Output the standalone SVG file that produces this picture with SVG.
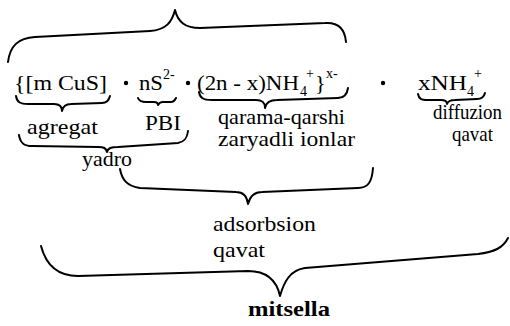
<svg xmlns="http://www.w3.org/2000/svg" width="510" height="326" viewBox="0 0 510 326">
<style>
text{font-family:"Liberation Serif","Times New Roman",serif;fill:#000}
.m{font-size:22px}
.s{font-size:14px}
.l{font-size:21px}
.b{font-size:21px;font-weight:bold}
.br{fill:none;stroke:#000;stroke-width:2;stroke-linecap:round;stroke-linejoin:round}
</style>
<rect width="510" height="326" fill="#fff"/>
<g id="formula">
<text class="m" x="14" y="90" textLength="93" lengthAdjust="spacingAndGlyphs">{[m CuS]</text>
<circle cx="126" cy="83" r="2.2"/>
<text class="m" x="139" y="90" textLength="24" lengthAdjust="spacingAndGlyphs">nS</text>
<text class="s" x="163" y="79">2-</text>
<circle cx="188" cy="83" r="2.2"/>
<text class="m" x="197" y="90" textLength="102" lengthAdjust="spacingAndGlyphs">(2n - x)NH</text>
<text class="s" x="300" y="96">4</text>
<text class="s" x="306" y="78">+</text>
<text class="m" x="315" y="90">}</text>
<text class="s" x="326" y="78">x-</text>
<circle cx="383" cy="83" r="2.2"/>
<text class="m" x="418" y="90" textLength="49" lengthAdjust="spacingAndGlyphs">xNH</text>
<text class="s" x="467" y="96">4</text>
<text class="s" x="474" y="78">+</text>
</g>
<g id="agregat"><text class="l" x="27" y="134" textLength="71" lengthAdjust="spacingAndGlyphs">agregat</text></g>
<g id="pbi"><text class="l" x="145" y="130" textLength="36" lengthAdjust="spacingAndGlyphs">PBI</text></g>
<g id="qarama"><text class="l" x="218" y="124" textLength="127" lengthAdjust="spacingAndGlyphs">qarama-qarshi</text>
<text class="l" x="218" y="146" textLength="137" lengthAdjust="spacingAndGlyphs">zaryadli ionlar</text></g>
<g id="diffuzion"><text class="l" x="433" y="119" textLength="69" lengthAdjust="spacingAndGlyphs">diffuzion</text>
<text class="l" x="452" y="141" textLength="41" lengthAdjust="spacingAndGlyphs">qavat</text></g>
<g id="yadro"><text class="l" x="82" y="166" textLength="50" lengthAdjust="spacingAndGlyphs">yadro</text></g>
<g id="adsorbsion"><text class="l" x="213" y="231" textLength="103" lengthAdjust="spacingAndGlyphs">adsorbsion</text>
<text class="l" x="213" y="257" textLength="52" lengthAdjust="spacingAndGlyphs">qavat</text></g>
<g id="mitsella"><text class="b" x="248" y="316" textLength="82" lengthAdjust="spacingAndGlyphs">mitsella</text></g>
<g id="connectors">
<path class="br" d="M8,62 C10,46 18,38 35,37 L150,31 C166,30 172,22 175,10 C178,22 185,28 200,28 L325,23 C339,22 345,30 346,42"/>
<path class="br" d="M16,96 C17,102 20,104 28,104 L54,104 C59,104 62,106 62,111 C63,106 66,104 71,104 L102,103 C107,103 109,100 110,96"/>
<path class="br" d="M138,98 C139,101 141,102 146,102 L154,102 C157,102 158,103 158,105 C159,103 160,102 163,102 L171,102 C174,102 175,100 176,98"/>
<path class="br" d="M199,92 C200,98 203,100 212,100 L256,100 C262,100 265,102 265,108 C266,102 270,100 277,100 L338,98 C344,98 347,95 348,88"/>
<path class="br" d="M418,94 C419,99 421,100 428,100 L441,100 C445,100 447,101 447,104 C448,101 450,100 455,100 L477,99 C482,99 484,97 485,93"/>
<path class="br" d="M19,135 C20,142 23,146 32,146 L98,147 C104,147 106,148 107,152 C108,148 111,147 118,147 L178,143 C184,142 187,139 188,131"/>
<path class="br" d="M120,169 C122,180 127,186 140,188 L236,192 C243,192 247,196 248,204 C250,196 254,192 262,192 L358,188 C368,188 372,182 373,168"/>
<path class="br" d="M41,246 C46,265 58,276 78,276 L248,271 C268,271 277,282 280,296 C284,282 290,270 305,268 L478,254 C494,252 503,248 508,238"/>
</g>
</svg>
